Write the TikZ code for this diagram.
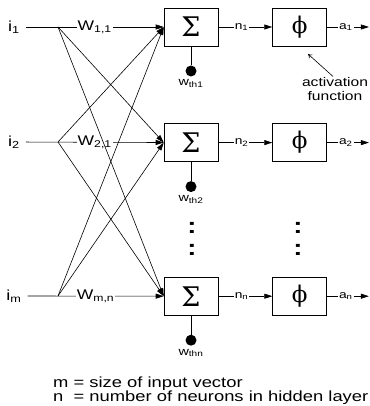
\documentclass[tikz,border=0pt]{standalone}
\usepackage{fontspec}
\setmainfont{Liberation Sans}[FakeStretch=1.25]
\newfontfamily\phifont{DejaVu Serif}
\usepackage{tikz}
\usetikzlibrary{arrows.meta,positioning}
\tikzset{
  nnsum/.style={draw,line width=0.6pt,minimum width=54pt,minimum height=38pt,inner sep=0pt,font=\phifont\fontsize{27}{27}\selectfont},
  nnact/.style={nnsum,font=\phifont\fontsize{23}{23}\selectfont},
  nnflow/.style={-{Triangle[length=8pt,width=5pt]},line width=0.6pt},
  nnpoint/.style={-{To[length=4pt,width=5pt]},line width=0.6pt},
  nnlbl/.style={fill=white,inner sep=1pt,font=\fontsize{14}{14}\selectfont},
  nnout/.style={fill=white,inner sep=1pt,font=\fontsize{11}{11}\selectfont},
  nnin/.style={inner sep=0pt,font=\fontsize{14.5}{14.5}\selectfont},
  nnbias/.style={circle,fill,inner sep=0pt,minimum size=11pt},
  nnsmall/.style={inner sep=1pt,font=\fontsize{11.5}{11.5}\selectfont},
  nnnote/.style={inner sep=0pt,font=\fontsize{12.5}{13.5}\selectfont},
  nndots/.style={inner sep=0pt,font=\fontsize{22}{22}\selectfont\bfseries},
}
\begin{document}
\begin{tikzpicture}[x=1pt,y=-1pt,node distance=19pt and 54pt]
  \useasboundingbox (0,0) rectangle (369,406);
  % summing junctions and activations
  \node[nnsum] (sum1) at (191,27) {Σ};
  \node[nnsum,below=77pt of sum1] (sum2) {Σ};
  \node[nnsum,below=115pt of sum2] (sumn) {Σ};
  \node[nnact,right=of sum1] (act1) {ϕ};
  \node[nnact,right=of sum2] (act2) {ϕ};
  \node[nnact,right=of sumn] (actn) {ϕ};

  % thresholds
  \node[nnbias,below=of sum1] (th1) {};
  \node[nnbias,below=of sum2] (th2) {};
  \node[nnbias,below=of sumn] (thn) {};
  \node[nnsmall,below=2pt of th1] (wth1) {w\textsubscript{th1}};
  \node[nnsmall,below=2pt of th2] (wth2) {w\textsubscript{th2}};
  \node[nnsmall,below=2pt of thn] (wthn) {w\textsubscript{thn}};
  \draw[line width=0.6pt] (sum1) -- (th1);
  \draw[line width=0.6pt] (sum2) -- (th2);
  \draw[line width=0.6pt] (sumn) -- (thn);

  % inputs
  \node[nnin] (in1) at (14,27) {i\textsubscript{1}};
  \node[nnin] (in2) at (14,142) {i\textsubscript{2}};
  \node[nnin] (inm) at (14,296) {i\textsubscript{m}};
  \coordinate (br1) at (58,27);
  \coordinate (br2) at (58,142);
  \coordinate (brm) at (58,296);

  \draw[nnflow,shorten <=6pt] (in1) -- node[nnlbl,pos=0.52]{W\textsubscript{1,1}} (sum1);
  \draw[nnflow,shorten <=6pt] (in2) -- node[nnlbl,pos=0.52]{W\textsubscript{2,1}} (sum2);
  \draw[nnflow,shorten <=6pt] (inm) -- node[nnlbl,pos=0.52]{W\textsubscript{m,n}} (sumn);
  \foreach \a/\b in {1/2,1/n,2/1,2/n,m/1,m/2}
    \draw[nnflow] (br\a) -- (sum\b.west);

  % outputs
  \coordinate[right=42pt of act1] (out1);
  \coordinate[right=42pt of act2] (out2);
  \coordinate[right=42pt of actn] (outn);
  \draw[nnflow] (sum1) -- node[nnout,pos=0.43]{n\textsubscript{1}} (act1);
  \draw[nnflow] (sum2) -- node[nnout,pos=0.43]{n\textsubscript{2}} (act2);
  \draw[nnflow] (sumn) -- node[nnout,pos=0.43]{n\textsubscript{n}} (actn);
  \draw[nnflow] (act1) -- node[nnout,pos=0.45]{a\textsubscript{1}} (out1);
  \draw[nnflow] (act2) -- node[nnout,pos=0.45]{a\textsubscript{2}} (out2);
  \draw[nnflow] (actn) -- node[nnout,pos=0.45]{a\textsubscript{n}} (outn);

  % ellipsis between rows
  \node[nndots] (dotsa) at (192,228) {:};
  \node[nndots] (dotsb) at (192,250) {:};
  \node[nndots] (dotsc) at (298,228) {:};
  \node[nndots] (dotsd) at (298,250) {:};

  % activation note
  \node[nnnote,align=center] (actlbl) at (335,89) {activation\\function};
  \coordinate (actptr) at (308,54);
  \draw[nnpoint] ([xshift=-2pt,yshift=1pt]actlbl.north) -- (actptr);

  \node[anchor=north west,align=left,inner sep=0pt,font=\fontsize{14.7}{14}\selectfont] (legend) at (53,377)
    {m = size of input vector\\n\ \ = number of neurons in hidden layer};
\end{tikzpicture}
\end{document}
